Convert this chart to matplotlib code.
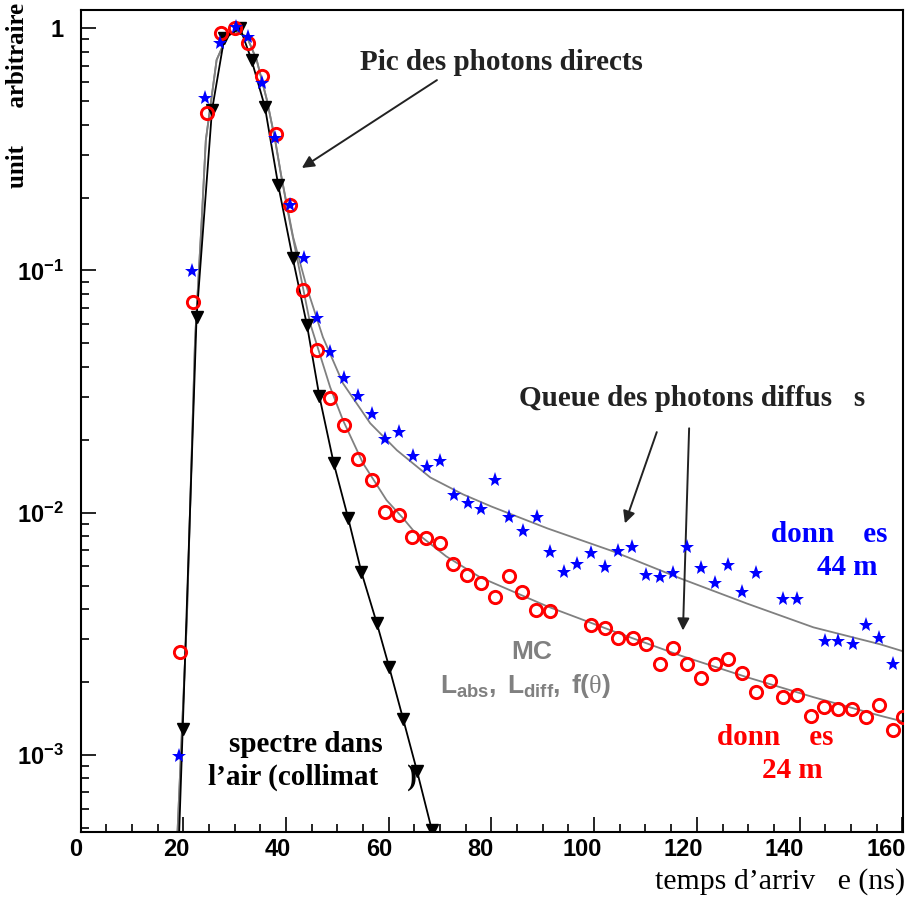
import matplotlib
matplotlib.use("Agg")
import matplotlib.pyplot as plt
from matplotlib.ticker import FixedLocator, MultipleLocator, LogLocator, NullFormatter
from matplotlib.transforms import ScaledTranslation

plt.rcParams['mathtext.fontset'] = 'custom'
plt.rcParams['mathtext.rm'] = 'Liberation Sans:bold'
plt.rcParams['mathtext.bf'] = 'Liberation Sans:bold'
plt.rcParams['mathtext.it'] = 'Liberation Serif'

# donnees 24 m (cercles rouges)
t_24 = [19.4, 21.9, 24.6, 27.4, 30.1, 32.6, 35.4, 38.1, 40.8, 43.3, 46.1, 48.6, 51.3, 54.0, 56.8,
        59.3, 62.0, 64.6, 67.3, 70.0, 72.5, 75.3, 78.0, 80.7, 83.4, 86.0, 88.7, 91.4, 99.4, 102.1,
        104.7, 107.6, 110.1, 112.9, 115.4, 118.1, 120.8, 123.6, 126.1, 128.8, 131.6, 134.3, 136.8,
        139.5, 142.3, 144.8, 147.5, 150.2, 153.0, 155.5, 158.2, 160.2]
y_24 = [2.67e-3, 0.074, 0.447, 0.956, 1.0, 0.87, 0.635, 0.366, 0.186, 0.0829, 0.0469, 0.0297,
        0.0229, 0.0166, 0.0137, 0.0101, 0.00975, 0.00791, 0.00783, 0.00747, 0.00611, 0.00555,
        0.0051, 0.00447, 0.00545, 0.00468, 0.00398, 0.00394, 0.00342, 0.00333, 0.00305, 0.00305,
        0.00288, 0.00236, 0.00277, 0.00236, 0.00207, 0.00238, 0.00248, 0.00217, 0.00181, 0.00201,
        0.00173, 0.00177, 0.00144, 0.00158, 0.00154, 0.00155, 0.00143, 0.0016, 0.00126, 0.00143]

# donnees 44 m (etoiles bleues)
t_44 = [19.2, 21.7, 24.2, 27.2, 30.3, 32.6, 35.4, 37.9, 40.8, 43.5, 46.1, 48.6, 51.3, 54.0, 56.8,
        59.3, 62.0, 64.8, 67.5, 70.0, 72.7, 75.5, 78.0, 80.7, 83.4, 86.2, 88.9, 91.4, 94.2, 96.7,
        99.4, 102.1, 104.7, 107.4, 110.1, 112.9, 115.4, 118.1, 120.8, 123.6, 126.1, 128.8, 131.6,
        136.8, 139.5, 145.0, 147.5, 150.4, 153.0, 155.5, 158.2]
y_44 = [9.9e-4, 0.0993, 0.515, 0.87, 1.01, 0.92, 0.594, 0.352, 0.186, 0.1125, 0.0635, 0.0459,
        0.0359, 0.0303, 0.0255, 0.0201, 0.0215, 0.0171, 0.0154, 0.0163, 0.0118, 0.011, 0.0104,
        0.0136, 0.00955, 0.00837, 0.00955, 0.00686, 0.00566, 0.00611, 0.00679, 0.00594, 0.00692,
        0.00719, 0.00555, 0.00541, 0.00561, 0.00719, 0.00588, 0.0051, 0.00605, 0.00469, 0.00561,
        0.00442, 0.00442, 0.00294, 0.00294, 0.00286, 0.00345, 0.00303, 0.00236]

# spectre dans l'air (triangles noirs)
t_air = [19.9, 22.6, 25.6, 28.0, 31.1, 33.3, 35.9, 38.5, 41.3, 44.1, 46.5, 49.3, 52.1, 54.7,
         57.7, 60.1, 62.8, 65.5, 68.4]
y_air = [1.28e-3, 0.0643, 0.459, 0.912, 1.0, 0.74, 0.474, 0.225, 0.113, 0.0594, 0.0303, 0.016,
         0.00952, 0.00567, 0.00349, 0.0023, 0.00141, 8.6e-4, 4.9e-4]
t_air_start, y_air_start = 19.2, 4.7e-4

# MC : montee commune puis queues 24 m / 44 m
mc_t_rise = [18.85, 20.7, 22.3, 23.6, 24.4, 26.5, 28.5, 30.1, 32.4, 34.3, 36.3, 37.9, 39.05]
mc_y_rise = [4.6e-4, 3.6e-3, 0.0515, 0.161, 0.345, 0.74, 0.923, 0.975, 0.923, 0.74, 0.505, 0.345, 0.248]
mc44_t = [41.4, 44.05, 47.2, 51.1, 56.4, 61.6, 68.1, 74.5, 80.0, 90.9, 103.7, 116.8, 129.8, 142.7,
          155.7, 160.3]
mc44_y = [0.1374, 0.0853, 0.053, 0.0342, 0.0234, 0.0181, 0.01397, 0.01189, 0.0106, 0.00861,
          0.00692, 0.00535, 0.00421, 0.00336, 0.00286, 0.00267]
mc24_t = [40.8, 42.75, 44.7, 48.6, 51.1, 55.0, 59.6, 62.8, 64.75, 71.2, 77.8, 90.9, 103.7, 116.8,
          129.8, 142.7, 155.7, 160.3]
mc24_y = [0.1568, 0.0975, 0.0606, 0.033, 0.0241, 0.016, 0.01125, 0.00948, 0.00846, 0.0066,
          0.00541, 0.0041, 0.00324, 0.00257, 0.00209, 0.00173, 0.00145, 0.00137]

y_ticks = [1e-3, 1e-2, 1e-1, 1]
y_ticklabels = [r'$\mathbf{10^{-3}}$', r'$\mathbf{10^{-2}}$', r'$\mathbf{10^{-1}}$', '1']

W, H = 914, 897
fig = plt.figure(figsize=(W / 100, H / 100), dpi=100)
ax = fig.add_axes([80.5 / W, 1 - 832 / H, 822.8 / W, 822 / H])
ax.set_yscale('log')
ax.set_xlim(0, 160.2)
ax.set_ylim(4.8e-4, 1.19)

gray = '#808080'
ax.plot(mc_t_rise + mc44_t, mc_y_rise + mc44_y, color=gray, lw=1.3, zorder=2)
ax.plot(mc_t_rise + mc24_t, mc_y_rise + mc24_y, color=gray, lw=1.3, zorder=2)
ax.plot([t_air_start] + t_air, [y_air_start] + y_air, color='black', lw=1.3, zorder=3)
ax.plot(t_air, y_air, ls='none', marker='v', ms=8.5, color='black', zorder=4)
ax.plot(t_24, y_24, ls='none', marker='o', ms=8.8, mfc='none', mec='red', mew=2.1, zorder=5)
ax.plot(t_44, y_44, ls='none', marker='*', ms=11, color='blue', mew=0, zorder=6)

# axes facon ROOT
for s in ['left', 'bottom', 'top', 'right']:
    ax.spines[s].set_linewidth(1.5)
ax.xaxis.set_major_locator(MultipleLocator(20))
ax.xaxis.set_minor_locator(MultipleLocator(5))
ax.yaxis.set_major_locator(FixedLocator(y_ticks))
ax.set_yticklabels(y_ticklabels)
ax.yaxis.set_minor_locator(LogLocator(base=10, subs=range(2, 10)))
ax.yaxis.set_minor_formatter(NullFormatter())
ax.tick_params(which='both', direction='in', top=False, right=False)
ax.tick_params(which='major', length=11, width=1.2)
ax.tick_params(which='minor', length=6, width=1.2)
ax.tick_params(axis='x', pad=4, labelsize=17)
ax.tick_params(axis='y', pad=12, labelsize=17)
for lab in ax.get_xticklabels() + ax.get_yticklabels():
    lab.set_fontfamily('Liberation Sans')
    lab.set_fontweight('bold')
# les etiquettes x sont un peu decalees a gauche, comme dans ROOT
fig.canvas.draw()
for tick in ax.xaxis.get_major_ticks():
    dx = -(5 + tick.get_loc() / 14.0) / 100.0
    lab = tick.label1
    lab.set_transform(lab.get_transform() + ScaledTranslation(dx, 0, fig.dpi_scale_trans))

serif = 'Liberation Serif'


def ftext(x, y, s, **kw):
    fig.text(x / W, 1 - y / H, s, **kw)


big = dict(ha='center', va='center', family=serif, weight='bold', size=21)
ftext(501, 62, 'Pic des photons directs', color='#222222', **big)
ftext(692, 398, 'Queue des photons diffus   s', color='#222222', **big)
ftext(829, 535, 'donn    es', color='blue', **big)
ftext(847, 567, '44 m', color='blue', **big)
ftext(775, 737, 'donn    es', color='red', **big)
ftext(792, 770, '24 m', color='red', **big)
ftext(306, 745, 'spectre dans', color='black', **big)
ftext(312, 777, 'l\u2019air (collimat    )', color='black', **big)
ftext(532, 652, 'MC', ha='center', va='center', family='Liberation Sans', weight='bold', size=19,
      color=gray)
ftext(525, 686, r'$\mathbf{L_{abs},\ L_{diff},\ f(}\mathit{\theta}\mathbf{)}$', ha='center',
      va='center', size=19, color=gray)

ftext(905, 882, 'temps d\u2019arriv   e (ns)', ha='right', va='center', family=serif, size=21.5)
ftext(18, 3, 'unit      arbitraire', ha='center', va='top', rotation=90, family=serif,
      weight='bold', size=18)

arrow = dict(arrowstyle='-|>', color='#222222', lw=1.4, mutation_scale=18, shrinkA=0, shrinkB=0)
ax.annotate('', xy=(43.1, 0.265), xytext=(69.4, 0.611), arrowprops=arrow)
ax.annotate('', xy=(106.0, 0.00903), xytext=(112.2, 0.0215), arrowprops=arrow)
ax.annotate('', xy=(117.3, 0.00326), xytext=(118.5, 0.0223), arrowprops=arrow)

fig.savefig('out.png', dpi=100)
